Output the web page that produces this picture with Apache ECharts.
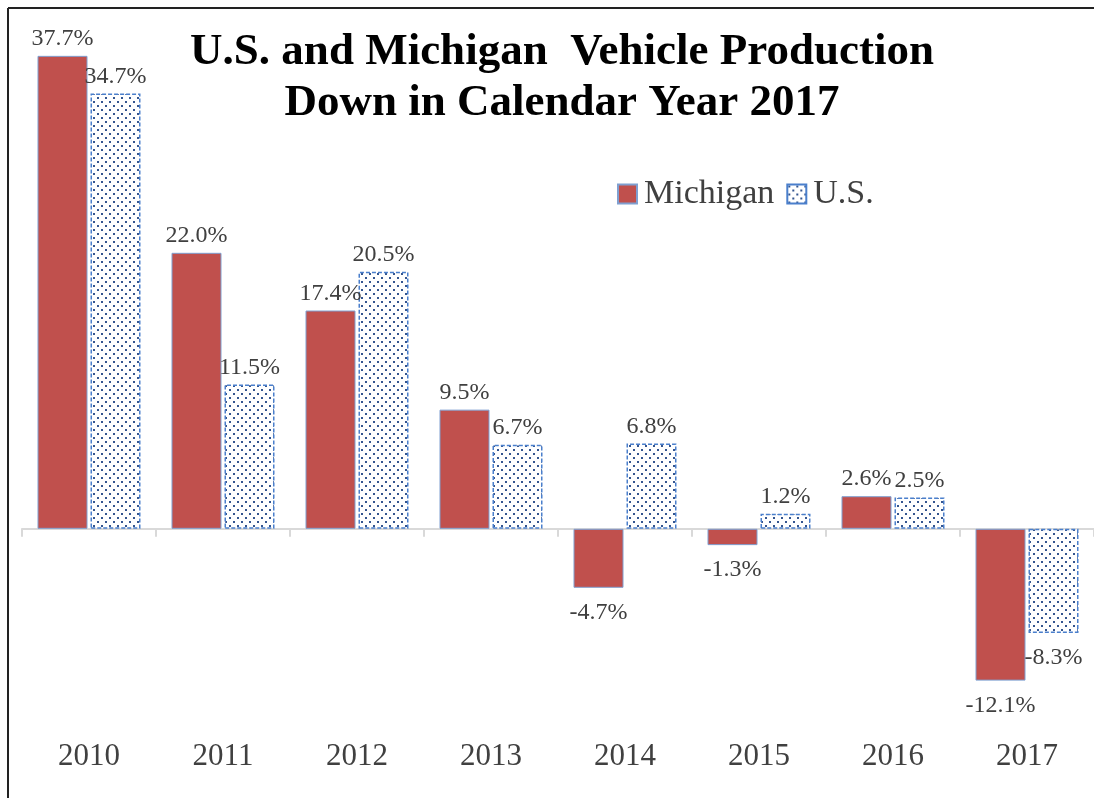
<!DOCTYPE html>
<html>
<head>
<meta charset="utf-8">
<script src="https://cdn.jsdelivr.net/npm/echarts@6/dist/echarts.min.js"></script>
<style>
html,body{margin:0;padding:0;background:#fff;}
#chart{width:1094px;height:798px;}
</style>
</head>
<body>
<div id="chart"></div>
<script>
var years = ['2010','2011','2012','2013','2014','2015','2016','2017'];
var michigan = [37.7, 22.0, 17.4, 9.5, -4.7, -1.3, 2.6, -12.1];
var us = [34.7, 11.5, 20.5, 6.7, 6.8, 1.2, 2.5, -8.3];
var titleText = 'U.S. and Michigan  Vehicle Production\nDown in Calendar Year 2017';

var SERIF = '"Liberation Serif","Times New Roman",serif';

function makePattern() {
  var c = document.createElement('canvas');
  c.width = 8; c.height = 8;
  var ctx = c.getContext('2d');
  ctx.fillStyle = '#ffffff';
  ctx.fillRect(0, 0, 8, 8);
  ctx.fillStyle = '#34558f';
  ctx.fillRect(1, 1, 2, 2);
  ctx.fillRect(5, 5, 2, 2);
  return c;
}
var pattern = { image: makePattern(), repeat: 'repeat' };

function withLabels(vals) {
  return vals.map(function (v) {
    return { value: v, label: v < 0 ? { position: 'bottom', distance: 13 } : { position: 'top', distance: 5 } };
  });
}

var labelStyle = {
  show: true,
  fontFamily: SERIF,
  fontSize: 24,
  color: '#404040',
  formatter: function (p) { return p.value.toFixed(1) + '%'; }
};

var chart = echarts.init(document.getElementById('chart'));
chart.setOption({
  backgroundColor: '#ffffff',
  animation: false,
  title: {
    text: titleText,
    left: 557,
    textAlign: 'center',
    top: 22,
    textStyle: { fontFamily: SERIF, fontWeight: 'bold', fontSize: 45, color: '#000', lineHeight: 51 }
  },
  legend: {
    left: 612,
    top: 172,
    icon: 'rect',
    itemWidth: 19,
    itemHeight: 19,
    itemGap: 12,
    textStyle: { fontFamily: SERIF, fontSize: 34, color: '#404040', padding: [0, 0, 0, 2] },
    data: ['Michigan', 'U.S.']
  },
  grid: { left: 22, right: 0, top: 27, bottom: 81, containLabel: false },
  xAxis: [
    {
      type: 'category',
      data: years,
      axisLine: { onZero: true, lineStyle: { color: '#d9d9d9', width: 2 } },
      axisTick: { show: true, length: 8, lineStyle: { color: '#d9d9d9', width: 2 } },
      axisLabel: { show: false }
    },
    {
      type: 'category',
      data: years,
      position: 'bottom',
      axisLine: { show: false, onZero: false },
      axisTick: { show: false },
      axisLabel: { show: true, margin: 24, fontFamily: SERIF, fontSize: 31, color: '#404040' }
    }
  ],
  yAxis: {
    type: 'value',
    min: -15,
    max: 40,
    interval: 5,
    show: false,
    splitLine: { show: false }
  },
  series: [
    {
      name: 'Michigan',
      type: 'bar',
      xAxisIndex: 0,
      barWidth: 50,
      barGap: '6%',
      data: withLabels(michigan),
      itemStyle: { color: '#c0504d', borderColor: '#7f9fd0', borderWidth: 1 },
      label: labelStyle
    },
    {
      name: 'U.S.',
      type: 'bar',
      xAxisIndex: 0,
      barWidth: 50,
      barGap: '6%',
      data: withLabels(us),
      itemStyle: { color: pattern, borderColor: '#4a7fcc', borderWidth: 1.5, borderType: [4, 2] },
      label: labelStyle
    }
  ],
  graphic: [
    { type: 'line', shape: { x1: 8, y1: 8, x2: 1094, y2: 8 }, style: { stroke: '#222', lineWidth: 2 } },
    { type: 'line', shape: { x1: 8, y1: 8, x2: 8, y2: 798 }, style: { stroke: '#222', lineWidth: 2 } }
  ]
});
</script>
</body>
</html>
